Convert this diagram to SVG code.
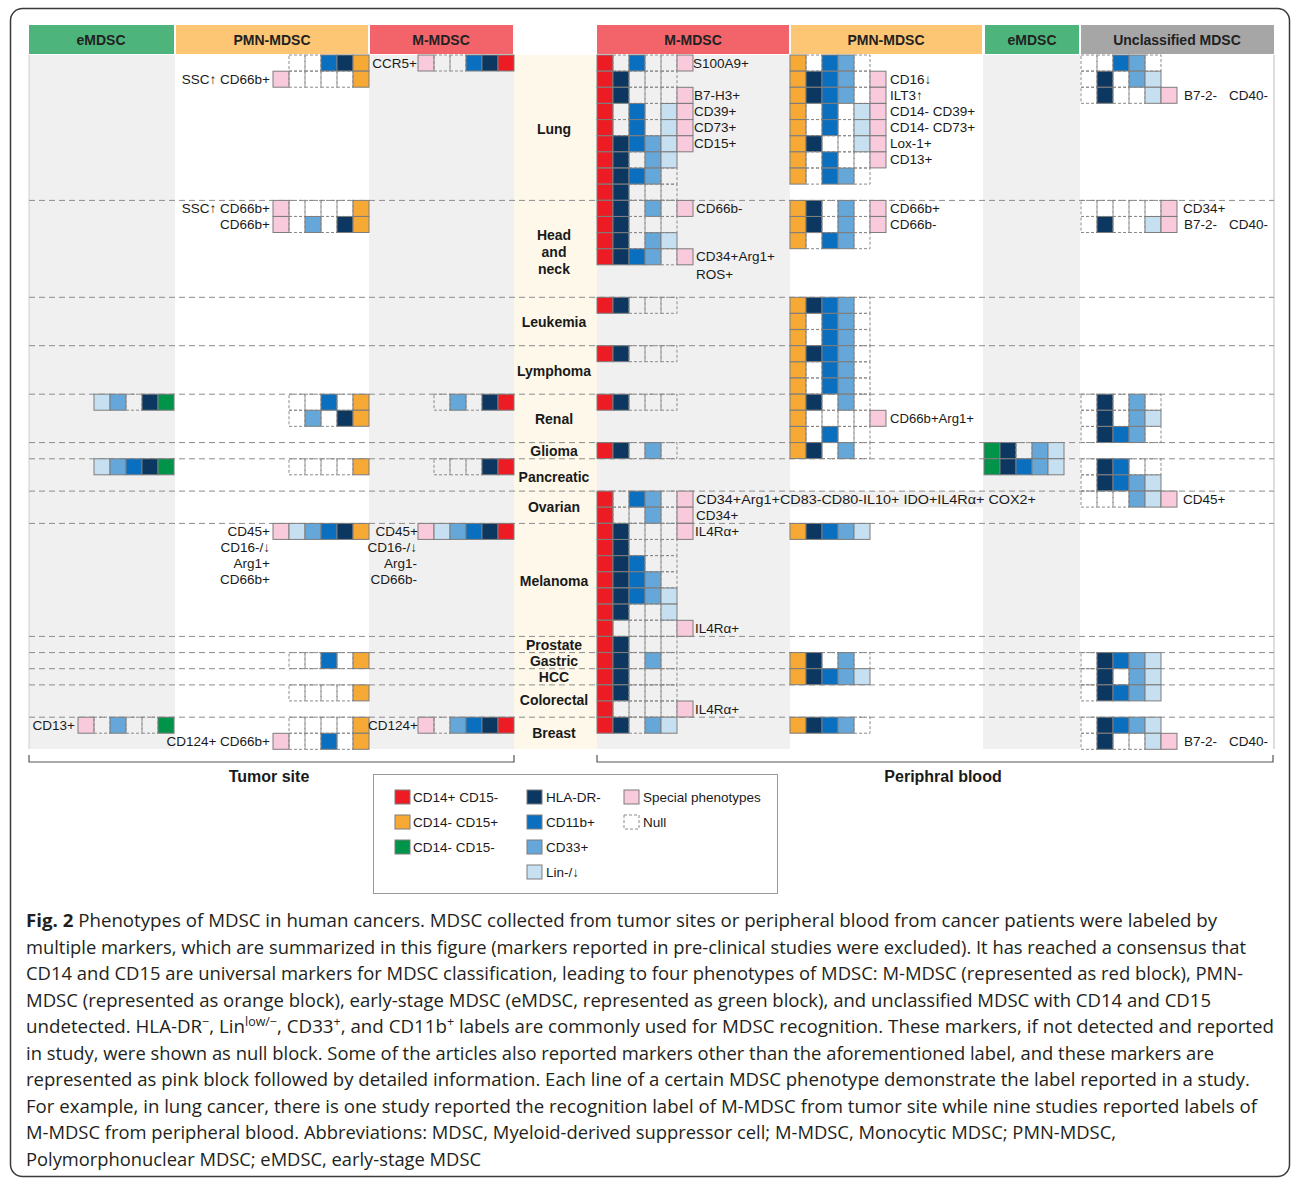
<svg xmlns="http://www.w3.org/2000/svg" width="1292" height="1178" viewBox="0 0 1292 1178">
<style>
.c{stroke:#7d7d7d;stroke-width:1}
.n{fill:none;stroke:#8a8a8a;stroke-width:1;stroke-dasharray:3 2}
.t{font-family:"Liberation Sans",Arial,sans-serif;font-size:13.5px;fill:#1a1a1a}
.e{text-anchor:end}
.lab{font-family:"Liberation Sans",Arial,sans-serif;font-weight:bold;font-size:14px;text-anchor:middle;fill:#1a1a1a}
.hdr{font-family:"Liberation Sans",Arial,sans-serif;font-weight:bold;font-size:14px;text-anchor:middle;fill:#222}
.grid{stroke:#8c8c8c;stroke-width:1;stroke-dasharray:6 4;fill:none}
.cap{font-family:"Open Sans","Noto Sans",sans-serif;font-size:18px;fill:#231f20}
.br{fill:none;stroke:#555;stroke-width:1.2}
</style>
<defs>
<rect id="R" width="16" height="16" class="c" fill="#ed1c24"/>
<rect id="O" width="16" height="16" class="c" fill="#f7a935"/>
<rect id="G" width="16" height="16" class="c" fill="#00934a"/>
<rect id="D" width="16" height="16" class="c" fill="#0b3760"/>
<rect id="B" width="16" height="16" class="c" fill="#0b6fbf"/>
<rect id="M" width="16" height="16" class="c" fill="#64a7d8"/>
<rect id="L" width="16" height="16" class="c" fill="#c7e0f1"/>
<rect id="P" width="16" height="16" class="c" fill="#f9c9dc"/>
<rect id="N" width="16" height="16" class="n"/>
</defs>
<rect width="1292" height="1178" fill="#ffffff"/>
<rect x="10.5" y="8.5" width="1279" height="1168" rx="12" fill="none" stroke="#3a3a3a" stroke-width="1.5"/>

<g id="backgrounds">
<rect x="29" y="55" width="146" height="694" fill="#f0f0f0"/>
<rect x="369" y="55" width="145" height="694" fill="#f0f0f0"/>
<rect x="514" y="55" width="83" height="694" fill="#fdf8ea"/>
<rect x="597" y="55" width="193" height="694" fill="#f0f0f0"/>
<rect x="983" y="55" width="97" height="694" fill="#f0f0f0"/>
<rect x="790" y="491" width="193" height="16" fill="#f0f0f0"/>
<line x1="29" y1="55" x2="29" y2="749" stroke="#cfcfcf"/>
<line x1="1274" y1="55" x2="1274" y2="749" stroke="#bdbdbd"/>
</g>

<g id="headers">
<rect x="29" y="25" width="145" height="29" fill="#4db57c"/>
<text class="hdr" x="101" y="44.5">eMDSC</text>
<rect x="176" y="25" width="192" height="29" fill="#fcc675"/>
<text class="hdr" x="272" y="44.5">PMN-MDSC</text>
<rect x="370" y="25" width="143" height="29" fill="#f2646a"/>
<text class="hdr" x="441" y="44.5">M-MDSC</text>
<rect x="597" y="25" width="192" height="29" fill="#f2646a"/>
<text class="hdr" x="693" y="44.5">M-MDSC</text>
<rect x="791" y="25" width="191" height="29" fill="#fcc675"/>
<text class="hdr" x="886" y="44.5">PMN-MDSC</text>
<rect x="985" y="25" width="94" height="29" fill="#4db57c"/>
<text class="hdr" x="1032" y="44.5">eMDSC</text>
<rect x="1081" y="25" width="193" height="29" fill="#a6a6a6"/>
<text class="hdr" x="1177" y="44.5">Unclassified MDSC</text>
</g>

<g id="connectors">
<g id="row-dividers">
<line class="grid" x1="29" y1="200.4" x2="1274" y2="200.4"/>
<line class="grid" x1="29" y1="297.3" x2="1274" y2="297.3"/>
<line class="grid" x1="29" y1="345.7" x2="1274" y2="345.7"/>
<line class="grid" x1="29" y1="394.2" x2="1274" y2="394.2"/>
<line class="grid" x1="29" y1="442.6" x2="1274" y2="442.6"/>
<line class="grid" x1="29" y1="458.8" x2="1274" y2="458.8"/>
<line class="grid" x1="29" y1="491.1" x2="1274" y2="491.1"/>
<line class="grid" x1="29" y1="523.4" x2="1274" y2="523.4"/>
<line class="grid" x1="29" y1="636.4" x2="1274" y2="636.4"/>
<line class="grid" x1="29" y1="652.6" x2="1274" y2="652.6"/>
<line class="grid" x1="29" y1="668.7" x2="1274" y2="668.7"/>
<line class="grid" x1="29" y1="684.9" x2="1274" y2="684.9"/>
<line class="grid" x1="29" y1="717.2" x2="1274" y2="717.2"/>
</g>
<g id="brackets">
<path class="br" d="M29,755 V762 H514 V755"/>
<path class="br" d="M597,755 V762 H1273 V755"/>
</g>
</g>

<g id="cancer-labels">
<text class="lab" x="554" y="134">Lung</text>
<text class="lab" x="554" y="240">Head</text>
<text class="lab" x="554" y="257">and</text>
<text class="lab" x="554" y="274">neck</text>
<text class="lab" x="554" y="327">Leukemia</text>
<text class="lab" x="554" y="376">Lymphoma</text>
<text class="lab" x="554" y="424">Renal</text>
<text class="lab" x="554" y="456">Glioma</text>
<text class="lab" x="554" y="482">Pancreatic</text>
<text class="lab" x="554" y="512">Ovarian</text>
<text class="lab" x="554" y="586">Melanoma</text>
<text class="lab" x="554" y="650">Prostate</text>
<text class="lab" x="554" y="666">Gastric</text>
<text class="lab" x="554" y="682">HCC</text>
<text class="lab" x="554" y="705">Colorectal</text>
<text class="lab" x="554" y="738">Breast</text>
</g>

<g id="tumor-emdsc">
<use href="#L" x="94" y="394.2"/><use href="#M" x="110" y="394.2"/><use href="#N" x="126" y="394.2"/><use href="#D" x="142" y="394.2"/><use href="#G" x="158" y="394.2"/>
<use href="#L" x="94" y="458.8"/><use href="#M" x="110" y="458.8"/><use href="#B" x="126" y="458.8"/><use href="#D" x="142" y="458.8"/><use href="#G" x="158" y="458.8"/>
<use href="#P" x="78" y="717.2"/><use href="#N" x="94" y="717.2"/><use href="#M" x="110" y="717.2"/><use href="#N" x="126" y="717.2"/><use href="#N" x="142" y="717.2"/><use href="#G" x="158" y="717.2"/>
<text class="t e" x="75" y="729.7">CD13+</text>
</g>

<g id="tumor-pmn">
<use href="#N" x="289" y="55"/><use href="#N" x="305" y="55"/><use href="#B" x="321" y="55"/><use href="#D" x="337" y="55"/><use href="#O" x="353" y="55"/>
<use href="#P" x="273" y="71.2"/><use href="#N" x="289" y="71.2"/><use href="#N" x="305" y="71.2"/><use href="#N" x="321" y="71.2"/><use href="#N" x="337" y="71.2"/><use href="#O" x="353" y="71.2"/>
<text class="t e" x="270" y="83.7">SSC↑ CD66b+</text>
<use href="#P" x="273" y="200.4"/><use href="#N" x="289" y="200.4"/><use href="#N" x="305" y="200.4"/><use href="#N" x="321" y="200.4"/><use href="#N" x="337" y="200.4"/><use href="#O" x="353" y="200.4"/>
<text class="t e" x="270" y="212.9">SSC↑ CD66b+</text>
<use href="#P" x="273" y="216.5"/><use href="#N" x="289" y="216.5"/><use href="#M" x="305" y="216.5"/><use href="#N" x="321" y="216.5"/><use href="#D" x="337" y="216.5"/><use href="#O" x="353" y="216.5"/>
<text class="t e" x="270" y="229">CD66b+</text>
<use href="#N" x="289" y="394.2"/><use href="#N" x="305" y="394.2"/><use href="#B" x="321" y="394.2"/><use href="#N" x="337" y="394.2"/><use href="#O" x="353" y="394.2"/>
<use href="#N" x="289" y="410.3"/><use href="#M" x="305" y="410.3"/><use href="#N" x="321" y="410.3"/><use href="#D" x="337" y="410.3"/><use href="#O" x="353" y="410.3"/>
<use href="#N" x="289" y="458.8"/><use href="#N" x="305" y="458.8"/><use href="#N" x="321" y="458.8"/><use href="#N" x="337" y="458.8"/><use href="#O" x="353" y="458.8"/>
<use href="#P" x="273" y="523.4"/><use href="#L" x="289" y="523.4"/><use href="#M" x="305" y="523.4"/><use href="#B" x="321" y="523.4"/><use href="#D" x="337" y="523.4"/><use href="#O" x="353" y="523.4"/>
<text class="t e" x="270" y="535.9">CD45+</text>
<text class="t e" x="270" y="552">CD16-/↓</text>
<text class="t e" x="270" y="568">Arg1+</text>
<text class="t e" x="270" y="584">CD66b+</text>
<use href="#N" x="289" y="652.6"/><use href="#N" x="305" y="652.6"/><use href="#B" x="321" y="652.6"/><use href="#N" x="337" y="652.6"/><use href="#O" x="353" y="652.6"/>
<use href="#N" x="289" y="684.9"/><use href="#N" x="305" y="684.9"/><use href="#N" x="321" y="684.9"/><use href="#N" x="337" y="684.9"/><use href="#O" x="353" y="684.9"/>
<use href="#N" x="289" y="717.2"/><use href="#N" x="305" y="717.2"/><use href="#N" x="321" y="717.2"/><use href="#N" x="337" y="717.2"/><use href="#O" x="353" y="717.2"/>
<use href="#P" x="273" y="733.3"/><use href="#N" x="289" y="733.3"/><use href="#N" x="305" y="733.3"/><use href="#B" x="321" y="733.3"/><use href="#N" x="337" y="733.3"/><use href="#O" x="353" y="733.3"/>
<text class="t e" x="270" y="745.8">CD124+ CD66b+</text>
</g>

<g id="tumor-mmdsc">
<use href="#P" x="418" y="55"/><use href="#N" x="434" y="55"/><use href="#N" x="450" y="55"/><use href="#B" x="466" y="55"/><use href="#D" x="482" y="55"/><use href="#R" x="498" y="55"/>
<text class="t e" x="417" y="67.5">CCR5+</text>
<use href="#N" x="434" y="394.2"/><use href="#M" x="450" y="394.2"/><use href="#N" x="466" y="394.2"/><use href="#D" x="482" y="394.2"/><use href="#R" x="498" y="394.2"/>
<use href="#N" x="434" y="458.8"/><use href="#N" x="450" y="458.8"/><use href="#N" x="466" y="458.8"/><use href="#D" x="482" y="458.8"/><use href="#R" x="498" y="458.8"/>
<use href="#P" x="418" y="523.4"/><use href="#L" x="434" y="523.4"/><use href="#M" x="450" y="523.4"/><use href="#B" x="466" y="523.4"/><use href="#D" x="482" y="523.4"/><use href="#R" x="498" y="523.4"/>
<text class="t e" x="418" y="535.9">CD45+</text>
<text class="t e" x="417" y="552">CD16-/↓</text>
<text class="t e" x="417" y="568">Arg1-</text>
<text class="t e" x="417" y="584">CD66b-</text>
<use href="#P" x="418" y="717.2"/><use href="#N" x="434" y="717.2"/><use href="#M" x="450" y="717.2"/><use href="#B" x="466" y="717.2"/><use href="#D" x="482" y="717.2"/><use href="#R" x="498" y="717.2"/>
<text class="t e" x="418" y="729.7">CD124+</text>
</g>

<g id="pb-mmdsc">
<use href="#R" x="597" y="55"/><use href="#N" x="613" y="55"/><use href="#B" x="629" y="55"/><use href="#N" x="645" y="55"/><use href="#N" x="661" y="55"/><use href="#P" x="677" y="55"/>
<text class="t" x="693" y="67.5">S100A9+</text>
<use href="#R" x="597" y="71.2"/><use href="#D" x="613" y="71.2"/><use href="#N" x="629" y="71.2"/><use href="#N" x="645" y="71.2"/><use href="#N" x="661" y="71.2"/>
<use href="#R" x="597" y="87.3"/><use href="#D" x="613" y="87.3"/><use href="#N" x="629" y="87.3"/><use href="#N" x="645" y="87.3"/><use href="#N" x="661" y="87.3"/><use href="#P" x="677" y="87.3"/>
<text class="t" x="694" y="99.8">B7-H3+</text>
<use href="#R" x="597" y="103.5"/><use href="#N" x="613" y="103.5"/><use href="#B" x="629" y="103.5"/><use href="#N" x="645" y="103.5"/><use href="#L" x="661" y="103.5"/><use href="#P" x="677" y="103.5"/>
<text class="t" x="694" y="116">CD39+</text>
<use href="#R" x="597" y="119.6"/><use href="#N" x="613" y="119.6"/><use href="#B" x="629" y="119.6"/><use href="#N" x="645" y="119.6"/><use href="#L" x="661" y="119.6"/><use href="#P" x="677" y="119.6"/>
<text class="t" x="694" y="132.1">CD73+</text>
<use href="#R" x="597" y="135.8"/><use href="#D" x="613" y="135.8"/><use href="#B" x="629" y="135.8"/><use href="#M" x="645" y="135.8"/><use href="#L" x="661" y="135.8"/><use href="#P" x="677" y="135.8"/>
<text class="t" x="694" y="148.3">CD15+</text>
<use href="#R" x="597" y="151.9"/><use href="#D" x="613" y="151.9"/><use href="#N" x="629" y="151.9"/><use href="#M" x="645" y="151.9"/><use href="#L" x="661" y="151.9"/>
<use href="#R" x="597" y="168.1"/><use href="#D" x="613" y="168.1"/><use href="#B" x="629" y="168.1"/><use href="#M" x="645" y="168.1"/><use href="#N" x="661" y="168.1"/>
<use href="#R" x="597" y="184.2"/><use href="#D" x="613" y="184.2"/><use href="#N" x="629" y="184.2"/><use href="#N" x="645" y="184.2"/><use href="#N" x="661" y="184.2"/>
<use href="#R" x="597" y="200.4"/><use href="#D" x="613" y="200.4"/><use href="#N" x="629" y="200.4"/><use href="#M" x="645" y="200.4"/><use href="#N" x="661" y="200.4"/><use href="#P" x="677" y="200.4"/>
<text class="t" x="696" y="212.9">CD66b-</text>
<use href="#R" x="597" y="216.5"/><use href="#D" x="613" y="216.5"/><use href="#N" x="629" y="216.5"/><use href="#N" x="645" y="216.5"/><use href="#N" x="661" y="216.5"/>
<use href="#R" x="597" y="232.7"/><use href="#D" x="613" y="232.7"/><use href="#N" x="629" y="232.7"/><use href="#M" x="645" y="232.7"/><use href="#L" x="661" y="232.7"/>
<use href="#R" x="597" y="248.8"/><use href="#D" x="613" y="248.8"/><use href="#B" x="629" y="248.8"/><use href="#M" x="645" y="248.8"/><use href="#N" x="661" y="248.8"/><use href="#P" x="677" y="248.8"/>
<text class="t" x="696" y="261.3">CD34+Arg1+</text>
<text class="t" x="696" y="279">ROS+</text>
<use href="#R" x="597" y="297.3"/><use href="#D" x="613" y="297.3"/><use href="#N" x="629" y="297.3"/><use href="#N" x="645" y="297.3"/><use href="#N" x="661" y="297.3"/>
<use href="#R" x="597" y="345.7"/><use href="#D" x="613" y="345.7"/><use href="#N" x="629" y="345.7"/><use href="#N" x="645" y="345.7"/><use href="#N" x="661" y="345.7"/>
<use href="#R" x="597" y="394.2"/><use href="#D" x="613" y="394.2"/><use href="#N" x="629" y="394.2"/><use href="#N" x="645" y="394.2"/><use href="#N" x="661" y="394.2"/>
<use href="#R" x="597" y="442.6"/><use href="#D" x="613" y="442.6"/><use href="#N" x="629" y="442.6"/><use href="#M" x="645" y="442.6"/><use href="#N" x="661" y="442.6"/>
<use href="#R" x="597" y="491.1"/><use href="#N" x="613" y="491.1"/><use href="#B" x="629" y="491.1"/><use href="#M" x="645" y="491.1"/><use href="#N" x="661" y="491.1"/><use href="#P" x="677" y="491.1"/>
<text class="t" x="696" y="503.6" textLength="340" lengthAdjust="spacingAndGlyphs">CD34+Arg1+CD83-CD80-IL10+ IDO+IL4Rα+ COX2+</text>
<use href="#R" x="597" y="507.2"/><use href="#N" x="613" y="507.2"/><use href="#N" x="629" y="507.2"/><use href="#M" x="645" y="507.2"/><use href="#N" x="661" y="507.2"/><use href="#P" x="677" y="507.2"/>
<text class="t" x="696" y="519.7">CD34+</text>
<use href="#R" x="597" y="523.4"/><use href="#D" x="613" y="523.4"/><use href="#N" x="629" y="523.4"/><use href="#N" x="645" y="523.4"/><use href="#N" x="661" y="523.4"/><use href="#P" x="677" y="523.4"/>
<text class="t" x="695" y="535.9">IL4Rα+</text>
<use href="#R" x="597" y="539.5"/><use href="#D" x="613" y="539.5"/><use href="#N" x="629" y="539.5"/><use href="#N" x="645" y="539.5"/><use href="#N" x="661" y="539.5"/>
<use href="#R" x="597" y="555.7"/><use href="#D" x="613" y="555.7"/><use href="#B" x="629" y="555.7"/><use href="#N" x="645" y="555.7"/><use href="#N" x="661" y="555.7"/>
<use href="#R" x="597" y="571.8"/><use href="#D" x="613" y="571.8"/><use href="#B" x="629" y="571.8"/><use href="#M" x="645" y="571.8"/><use href="#N" x="661" y="571.8"/>
<use href="#R" x="597" y="588"/><use href="#D" x="613" y="588"/><use href="#B" x="629" y="588"/><use href="#M" x="645" y="588"/><use href="#L" x="661" y="588"/>
<use href="#R" x="597" y="604.1"/><use href="#D" x="613" y="604.1"/><use href="#N" x="629" y="604.1"/><use href="#N" x="645" y="604.1"/><use href="#L" x="661" y="604.1"/>
<use href="#R" x="597" y="620.3"/><use href="#N" x="613" y="620.3"/><use href="#N" x="629" y="620.3"/><use href="#N" x="645" y="620.3"/><use href="#N" x="661" y="620.3"/><use href="#P" x="677" y="620.3"/>
<text class="t" x="695" y="632.8">IL4Rα+</text>
<use href="#R" x="597" y="636.4"/><use href="#D" x="613" y="636.4"/><use href="#N" x="629" y="636.4"/><use href="#N" x="645" y="636.4"/><use href="#N" x="661" y="636.4"/>
<use href="#R" x="597" y="652.6"/><use href="#D" x="613" y="652.6"/><use href="#N" x="629" y="652.6"/><use href="#M" x="645" y="652.6"/><use href="#N" x="661" y="652.6"/>
<use href="#R" x="597" y="668.7"/><use href="#D" x="613" y="668.7"/><use href="#N" x="629" y="668.7"/><use href="#N" x="645" y="668.7"/><use href="#N" x="661" y="668.7"/>
<use href="#R" x="597" y="684.9"/><use href="#D" x="613" y="684.9"/><use href="#N" x="629" y="684.9"/><use href="#N" x="645" y="684.9"/><use href="#N" x="661" y="684.9"/>
<use href="#R" x="597" y="701"/><use href="#N" x="613" y="701"/><use href="#N" x="629" y="701"/><use href="#N" x="645" y="701"/><use href="#N" x="661" y="701"/><use href="#P" x="677" y="701"/>
<text class="t" x="695" y="713.5">IL4Rα+</text>
<use href="#R" x="597" y="717.2"/><use href="#D" x="613" y="717.2"/><use href="#N" x="629" y="717.2"/><use href="#M" x="645" y="717.2"/><use href="#L" x="661" y="717.2"/>
</g>

<g id="pb-pmn">
<use href="#O" x="790" y="55"/><use href="#N" x="806" y="55"/><use href="#B" x="822" y="55"/><use href="#M" x="838" y="55"/><use href="#N" x="854" y="55"/>
<use href="#O" x="790" y="71.2"/><use href="#D" x="806" y="71.2"/><use href="#B" x="822" y="71.2"/><use href="#M" x="838" y="71.2"/><use href="#N" x="854" y="71.2"/><use href="#P" x="870" y="71.2"/>
<text class="t" x="890" y="83.7">CD16↓</text>
<use href="#O" x="790" y="87.3"/><use href="#D" x="806" y="87.3"/><use href="#B" x="822" y="87.3"/><use href="#M" x="838" y="87.3"/><use href="#N" x="854" y="87.3"/><use href="#P" x="870" y="87.3"/>
<text class="t" x="890" y="99.8">ILT3↑</text>
<use href="#O" x="790" y="103.5"/><use href="#N" x="806" y="103.5"/><use href="#B" x="822" y="103.5"/><use href="#N" x="838" y="103.5"/><use href="#L" x="854" y="103.5"/><use href="#P" x="870" y="103.5"/>
<text class="t" x="890" y="116">CD14- CD39+</text>
<use href="#O" x="790" y="119.6"/><use href="#N" x="806" y="119.6"/><use href="#B" x="822" y="119.6"/><use href="#N" x="838" y="119.6"/><use href="#L" x="854" y="119.6"/><use href="#P" x="870" y="119.6"/>
<text class="t" x="890" y="132.1">CD14- CD73+</text>
<use href="#O" x="790" y="135.8"/><use href="#D" x="806" y="135.8"/><use href="#N" x="822" y="135.8"/><use href="#N" x="838" y="135.8"/><use href="#L" x="854" y="135.8"/><use href="#P" x="870" y="135.8"/>
<text class="t" x="890" y="148.3">Lox-1+</text>
<use href="#O" x="790" y="151.9"/><use href="#N" x="806" y="151.9"/><use href="#B" x="822" y="151.9"/><use href="#N" x="838" y="151.9"/><use href="#N" x="854" y="151.9"/><use href="#P" x="870" y="151.9"/>
<text class="t" x="890" y="164.4">CD13+</text>
<use href="#O" x="790" y="168.1"/><use href="#N" x="806" y="168.1"/><use href="#B" x="822" y="168.1"/><use href="#M" x="838" y="168.1"/><use href="#N" x="854" y="168.1"/>
<use href="#O" x="790" y="200.4"/><use href="#D" x="806" y="200.4"/><use href="#N" x="822" y="200.4"/><use href="#M" x="838" y="200.4"/><use href="#N" x="854" y="200.4"/><use href="#P" x="870" y="200.4"/>
<text class="t" x="890" y="212.9">CD66b+</text>
<use href="#O" x="790" y="216.5"/><use href="#D" x="806" y="216.5"/><use href="#N" x="822" y="216.5"/><use href="#M" x="838" y="216.5"/><use href="#N" x="854" y="216.5"/><use href="#P" x="870" y="216.5"/>
<text class="t" x="890" y="229">CD66b-</text>
<use href="#O" x="790" y="232.7"/><use href="#N" x="806" y="232.7"/><use href="#B" x="822" y="232.7"/><use href="#M" x="838" y="232.7"/><use href="#N" x="854" y="232.7"/>
<use href="#O" x="790" y="297.3"/><use href="#D" x="806" y="297.3"/><use href="#B" x="822" y="297.3"/><use href="#M" x="838" y="297.3"/><use href="#N" x="854" y="297.3"/>
<use href="#O" x="790" y="313.4"/><use href="#N" x="806" y="313.4"/><use href="#B" x="822" y="313.4"/><use href="#M" x="838" y="313.4"/><use href="#N" x="854" y="313.4"/>
<use href="#O" x="790" y="329.6"/><use href="#N" x="806" y="329.6"/><use href="#B" x="822" y="329.6"/><use href="#M" x="838" y="329.6"/><use href="#N" x="854" y="329.6"/>
<use href="#O" x="790" y="345.7"/><use href="#D" x="806" y="345.7"/><use href="#B" x="822" y="345.7"/><use href="#M" x="838" y="345.7"/><use href="#N" x="854" y="345.7"/>
<use href="#O" x="790" y="361.9"/><use href="#N" x="806" y="361.9"/><use href="#B" x="822" y="361.9"/><use href="#M" x="838" y="361.9"/><use href="#N" x="854" y="361.9"/>
<use href="#O" x="790" y="378"/><use href="#N" x="806" y="378"/><use href="#B" x="822" y="378"/><use href="#M" x="838" y="378"/><use href="#N" x="854" y="378"/>
<use href="#O" x="790" y="394.2"/><use href="#D" x="806" y="394.2"/><use href="#N" x="822" y="394.2"/><use href="#M" x="838" y="394.2"/><use href="#N" x="854" y="394.2"/>
<use href="#O" x="790" y="410.3"/><use href="#N" x="806" y="410.3"/><use href="#N" x="822" y="410.3"/><use href="#N" x="838" y="410.3"/><use href="#N" x="854" y="410.3"/><use href="#P" x="870" y="410.3"/>
<text class="t" x="890" y="422.8" textLength="84" lengthAdjust="spacingAndGlyphs">CD66b+Arg1+</text>
<use href="#O" x="790" y="426.5"/><use href="#N" x="806" y="426.5"/><use href="#B" x="822" y="426.5"/><use href="#N" x="838" y="426.5"/><use href="#N" x="854" y="426.5"/>
<use href="#O" x="790" y="442.6"/><use href="#D" x="806" y="442.6"/><use href="#N" x="822" y="442.6"/><use href="#M" x="838" y="442.6"/><use href="#N" x="854" y="442.6"/>
<use href="#O" x="790" y="523.4"/><use href="#D" x="806" y="523.4"/><use href="#B" x="822" y="523.4"/><use href="#M" x="838" y="523.4"/><use href="#L" x="854" y="523.4"/>
<use href="#O" x="790" y="652.6"/><use href="#D" x="806" y="652.6"/><use href="#N" x="822" y="652.6"/><use href="#M" x="838" y="652.6"/><use href="#N" x="854" y="652.6"/>
<use href="#O" x="790" y="668.7"/><use href="#D" x="806" y="668.7"/><use href="#B" x="822" y="668.7"/><use href="#M" x="838" y="668.7"/><use href="#L" x="854" y="668.7"/>
<use href="#O" x="790" y="717.2"/><use href="#D" x="806" y="717.2"/><use href="#B" x="822" y="717.2"/><use href="#M" x="838" y="717.2"/><use href="#N" x="854" y="717.2"/>
</g>

<g id="pb-emdsc">
<use href="#G" x="984" y="442.6"/><use href="#D" x="1000" y="442.6"/><use href="#N" x="1016" y="442.6"/><use href="#M" x="1032" y="442.6"/><use href="#L" x="1048" y="442.6"/>
<use href="#G" x="984" y="458.8"/><use href="#D" x="1000" y="458.8"/><use href="#B" x="1016" y="458.8"/><use href="#M" x="1032" y="458.8"/><use href="#L" x="1048" y="458.8"/>
</g>

<g id="pb-unclassified">
<use href="#N" x="1081" y="55"/><use href="#N" x="1097" y="55"/><use href="#B" x="1113" y="55"/><use href="#M" x="1129" y="55"/><use href="#N" x="1145" y="55"/>
<use href="#N" x="1081" y="71.2"/><use href="#D" x="1097" y="71.2"/><use href="#N" x="1113" y="71.2"/><use href="#M" x="1129" y="71.2"/><use href="#L" x="1145" y="71.2"/>
<use href="#N" x="1081" y="87.3"/><use href="#D" x="1097" y="87.3"/><use href="#N" x="1113" y="87.3"/><use href="#N" x="1129" y="87.3"/><use href="#L" x="1145" y="87.3"/><use href="#P" x="1161" y="87.3"/>
<text class="t" x="1184" y="99.8">B7-2-<tspan x="1229">CD40-</tspan></text>
<use href="#N" x="1081" y="200.4"/><use href="#N" x="1097" y="200.4"/><use href="#N" x="1113" y="200.4"/><use href="#N" x="1129" y="200.4"/><use href="#N" x="1145" y="200.4"/><use href="#P" x="1161" y="200.4"/>
<text class="t" x="1183" y="212.9">CD34+</text>
<use href="#N" x="1081" y="216.5"/><use href="#D" x="1097" y="216.5"/><use href="#N" x="1113" y="216.5"/><use href="#N" x="1129" y="216.5"/><use href="#L" x="1145" y="216.5"/><use href="#P" x="1161" y="216.5"/>
<text class="t" x="1184" y="229">B7-2-<tspan x="1229">CD40-</tspan></text>
<use href="#N" x="1081" y="394.2"/><use href="#D" x="1097" y="394.2"/><use href="#N" x="1113" y="394.2"/><use href="#M" x="1129" y="394.2"/><use href="#N" x="1145" y="394.2"/>
<use href="#N" x="1081" y="410.3"/><use href="#D" x="1097" y="410.3"/><use href="#N" x="1113" y="410.3"/><use href="#M" x="1129" y="410.3"/><use href="#L" x="1145" y="410.3"/>
<use href="#N" x="1081" y="426.5"/><use href="#D" x="1097" y="426.5"/><use href="#B" x="1113" y="426.5"/><use href="#M" x="1129" y="426.5"/><use href="#N" x="1145" y="426.5"/>
<use href="#N" x="1081" y="458.8"/><use href="#D" x="1097" y="458.8"/><use href="#B" x="1113" y="458.8"/><use href="#N" x="1129" y="458.8"/><use href="#N" x="1145" y="458.8"/>
<use href="#N" x="1081" y="474.9"/><use href="#D" x="1097" y="474.9"/><use href="#B" x="1113" y="474.9"/><use href="#M" x="1129" y="474.9"/><use href="#L" x="1145" y="474.9"/>
<use href="#N" x="1081" y="491.1"/><use href="#N" x="1097" y="491.1"/><use href="#N" x="1113" y="491.1"/><use href="#M" x="1129" y="491.1"/><use href="#L" x="1145" y="491.1"/><use href="#P" x="1161" y="491.1"/>
<text class="t" x="1183" y="503.6">CD45+</text>
<use href="#N" x="1081" y="652.6"/><use href="#D" x="1097" y="652.6"/><use href="#B" x="1113" y="652.6"/><use href="#M" x="1129" y="652.6"/><use href="#L" x="1145" y="652.6"/>
<use href="#N" x="1081" y="668.7"/><use href="#D" x="1097" y="668.7"/><use href="#N" x="1113" y="668.7"/><use href="#M" x="1129" y="668.7"/><use href="#L" x="1145" y="668.7"/>
<use href="#N" x="1081" y="684.9"/><use href="#D" x="1097" y="684.9"/><use href="#B" x="1113" y="684.9"/><use href="#M" x="1129" y="684.9"/><use href="#L" x="1145" y="684.9"/>
<use href="#N" x="1081" y="717.2"/><use href="#D" x="1097" y="717.2"/><use href="#B" x="1113" y="717.2"/><use href="#M" x="1129" y="717.2"/><use href="#L" x="1145" y="717.2"/>
<use href="#N" x="1081" y="733.3"/><use href="#D" x="1097" y="733.3"/><use href="#N" x="1113" y="733.3"/><use href="#N" x="1129" y="733.3"/><use href="#L" x="1145" y="733.3"/><use href="#P" x="1161" y="733.3"/>
<text class="t" x="1184" y="745.8">B7-2-<tspan x="1229">CD40-</tspan></text>
</g>

<g id="section-titles">
<text class="lab" x="269" y="782" style="font-size:16px">Tumor site</text>
<text class="lab" x="943" y="782" style="font-size:16px">Periphral blood</text>
</g>

<g id="legend">
<rect x="373.5" y="774.5" width="404" height="119" fill="#ffffff" stroke="#9a9a9a"/>
<rect x="395" y="790" width="15" height="14" class="c" fill="#ed1c24"/>
<text class="t" x="413" y="802">CD14+ CD15-</text>
<rect x="395" y="815" width="15" height="14" class="c" fill="#f7a935"/>
<text class="t" x="413" y="827">CD14- CD15+</text>
<rect x="395" y="840" width="15" height="14" class="c" fill="#00934a"/>
<text class="t" x="413" y="852">CD14- CD15-</text>
<rect x="527" y="790" width="15" height="14" class="c" fill="#0b3760"/>
<text class="t" x="546" y="802">HLA-DR-</text>
<rect x="527" y="815" width="15" height="14" class="c" fill="#0b6fbf"/>
<text class="t" x="546" y="827">CD11b+</text>
<rect x="527" y="840" width="15" height="14" class="c" fill="#64a7d8"/>
<text class="t" x="546" y="852">CD33+</text>
<rect x="527" y="865" width="15" height="14" class="c" fill="#c7e0f1"/>
<text class="t" x="546" y="877">Lin-/↓</text>
<rect x="624" y="790" width="15" height="14" class="c" fill="#f9c9dc"/>
<text class="t" x="643" y="802">Special phenotypes</text>
<rect x="624" y="815" width="15" height="14" class="n"/>
<text class="t" x="643" y="827">Null</text>
</g>

<g id="caption">
<text class="cap" x="26" y="927" textLength="1191" lengthAdjust="spacingAndGlyphs"><tspan font-weight="bold">Fig. 2</tspan> Phenotypes of MDSC in human cancers. MDSC collected from tumor sites or peripheral blood from cancer patients were labeled by</text>
<text class="cap" x="26" y="953.5" textLength="1220" lengthAdjust="spacingAndGlyphs">multiple markers, which are summarized in this figure (markers reported in pre-clinical studies were excluded). It has reached a consensus that</text>
<text class="cap" x="26" y="980" textLength="1217" lengthAdjust="spacingAndGlyphs">CD14 and CD15 are universal markers for MDSC classification, leading to four phenotypes of MDSC: M-MDSC (represented as red block), PMN-</text>
<text class="cap" x="26" y="1006.5" textLength="1185" lengthAdjust="spacingAndGlyphs">MDSC (represented as orange block), early-stage MDSC (eMDSC, represented as green block), and unclassified MDSC with CD14 and CD15</text>
<text class="cap" x="26" y="1033" textLength="1248" lengthAdjust="spacingAndGlyphs">undetected. HLA-DR<tspan dy="-7" font-size="12">−</tspan><tspan dy="7">, Lin</tspan><tspan dy="-7" font-size="12">low/−</tspan><tspan dy="7">, CD33</tspan><tspan dy="-7" font-size="12">+</tspan><tspan dy="7">, and CD11b</tspan><tspan dy="-7" font-size="12">+</tspan><tspan dy="7"> labels are commonly used for MDSC recognition. These markers, if not detected and reported</tspan></text>
<text class="cap" x="26" y="1059.5" textLength="1188" lengthAdjust="spacingAndGlyphs">in study, were shown as null block. Some of the articles also reported markers other than the aforementioned label, and these markers are</text>
<text class="cap" x="26" y="1086" textLength="1224" lengthAdjust="spacingAndGlyphs">represented as pink block followed by detailed information. Each line of a certain MDSC phenotype demonstrate the label reported in a study.</text>
<text class="cap" x="26" y="1112.5" textLength="1231" lengthAdjust="spacingAndGlyphs">For example, in lung cancer, there is one study reported the recognition label of M-MDSC from tumor site while nine studies reported labels of</text>
<text class="cap" x="26" y="1139" textLength="1090" lengthAdjust="spacingAndGlyphs">M-MDSC from peripheral blood. Abbreviations: MDSC, Myeloid-derived suppressor cell; M-MDSC, Monocytic MDSC; PMN-MDSC,</text>
<text class="cap" x="26" y="1165.5" textLength="455" lengthAdjust="spacingAndGlyphs">Polymorphonuclear MDSC; eMDSC, early-stage MDSC</text>
</g>
</svg>
